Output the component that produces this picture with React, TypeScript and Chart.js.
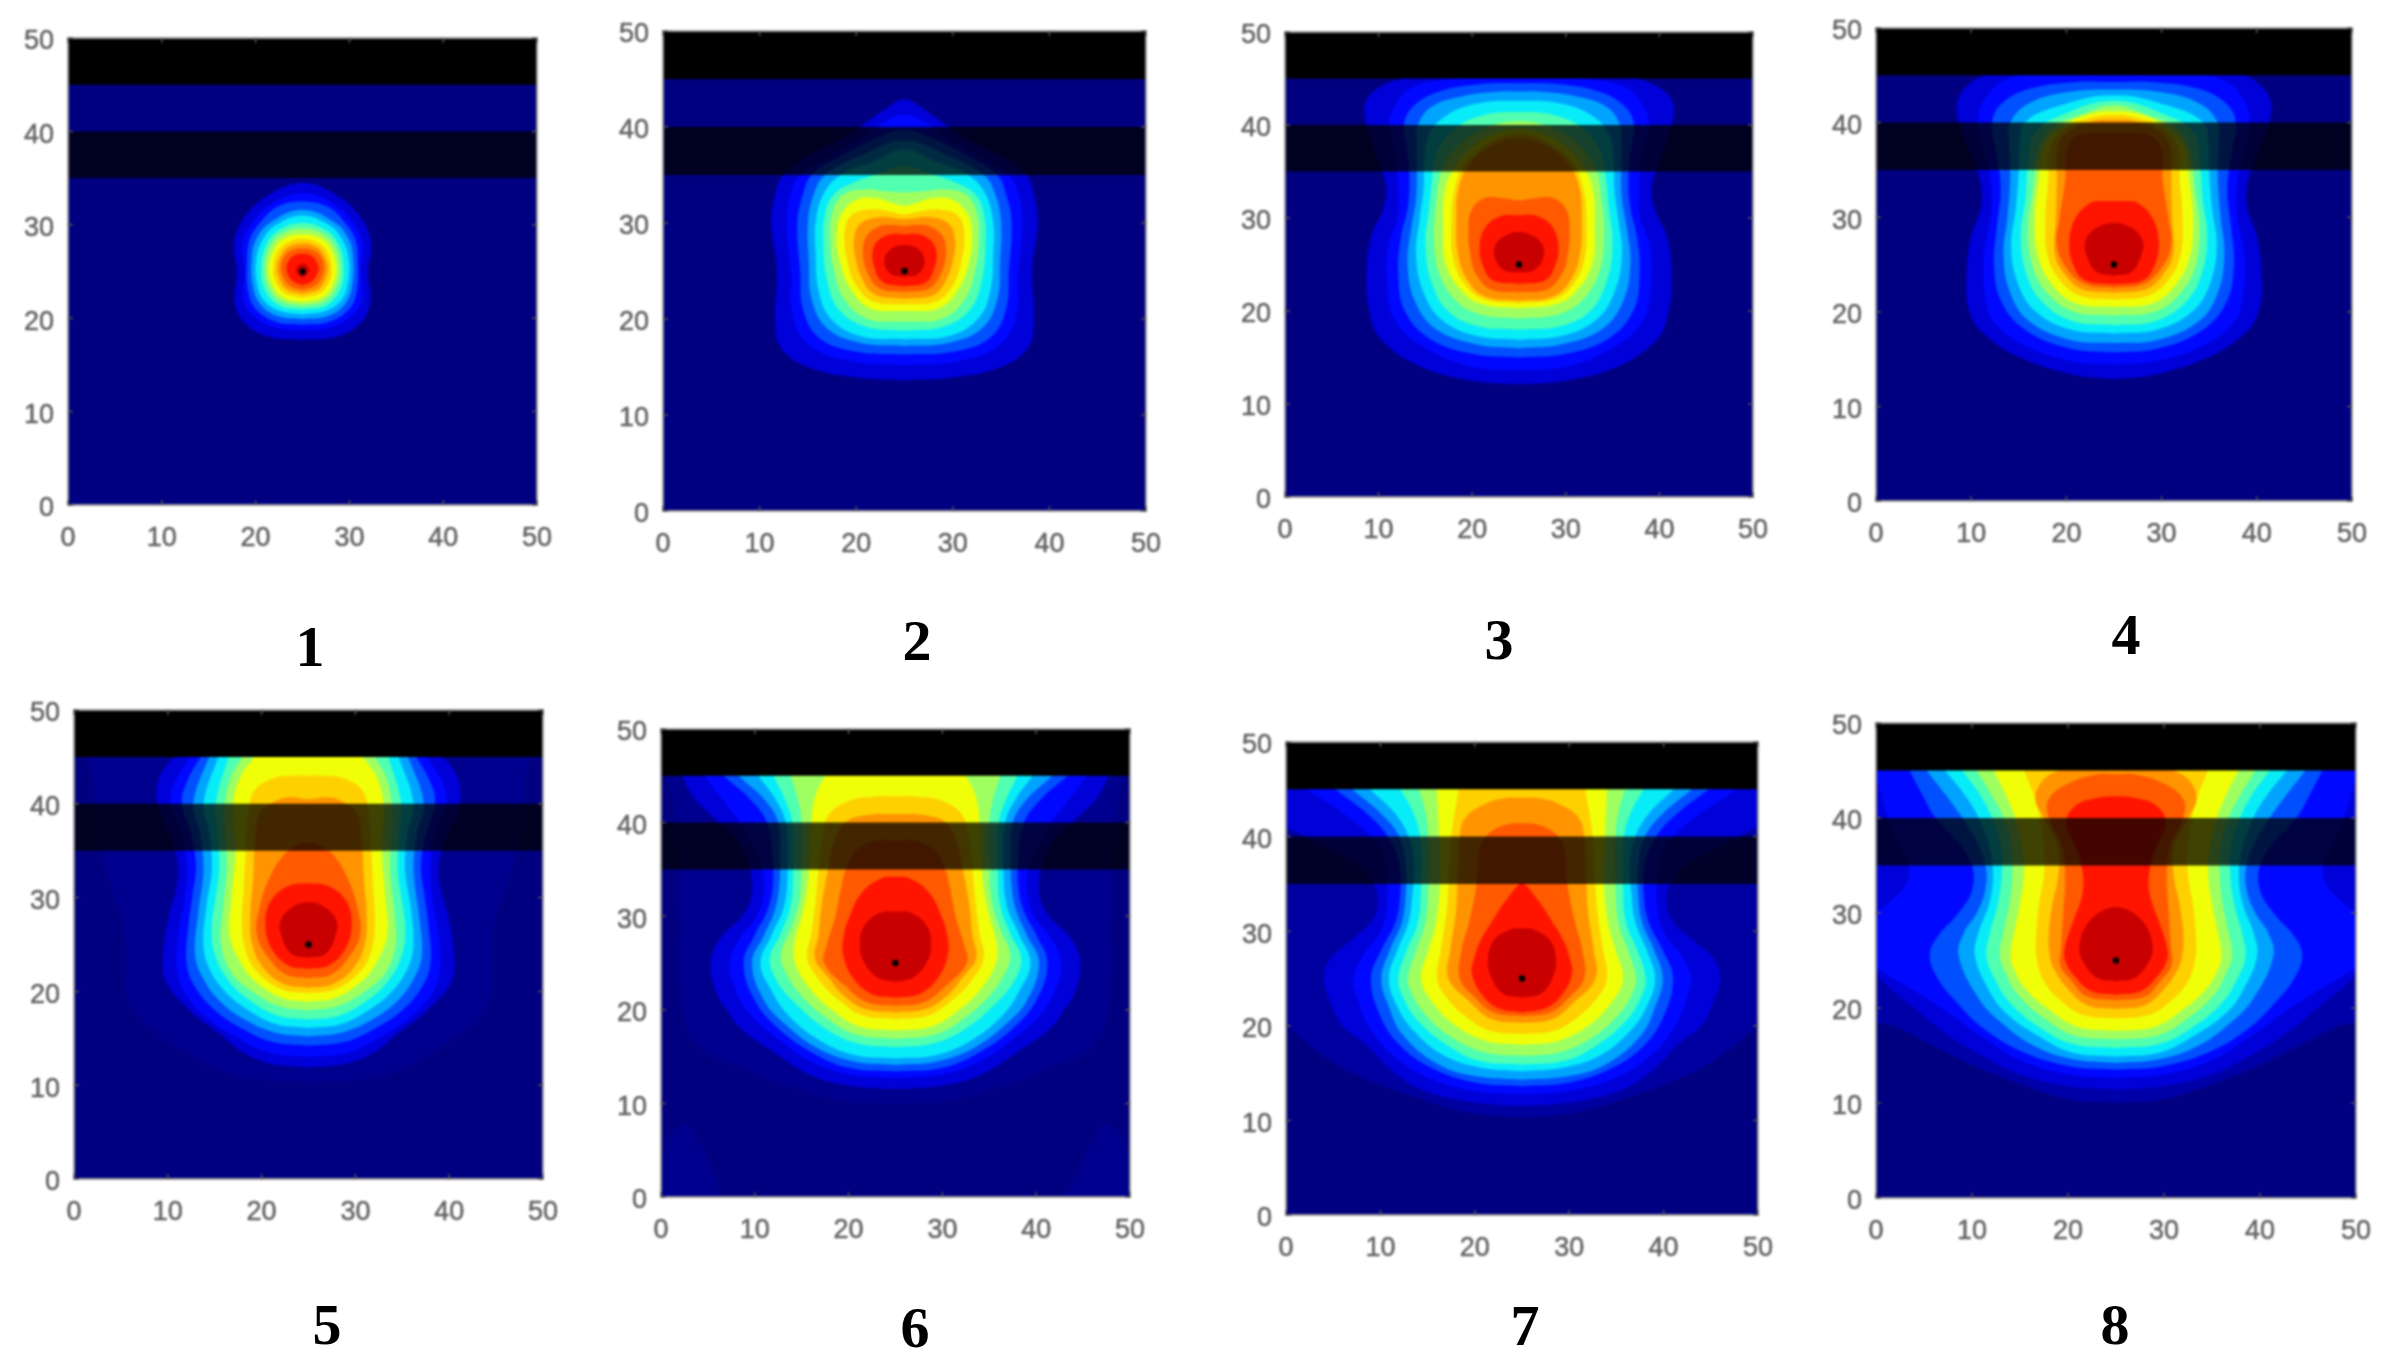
import { useEffect, useRef } from "react"
import { Chart, registerables } from "chart.js"

Chart.register(...registerables)

// Every contour is half an outline: [y, distance from x = 25]
type Half = number[][]

const tickStep = 10
const axisMax = 50
const sourcePoint = [25, 25]
const topLayer: Half = [[45, 25], [50, 25]]
const midLayer: Half = [[35, 25], [40, 25]]
const fullArea: Half = [[0, 25], [50, 25]]

// jet colours, outermost level first
const levelColors = [
  "#0000d8", "#0008ff", "#0050ff", "#00a4ff", "#08ecf8", "#50ffb0", "#a0ff60",
  "#f0ff08", "#ffd000", "#ff9400", "#ff5a00", "#ff1400", "#c80000",
]

const panel1: Half[] = [
  [[17.7,0],[18,3.5],[19.3,6],[21.5,7.2],[25,7],[28,7.3],[30.8,6.2],[33.2,3.6],[34.5,0]],
  [[18.7,0],[19,3],[20.2,5.2],[22,6.3],[25,6.2],[28,6.4],[30.2,5.4],[32.3,3.2],[33.4,0]],
  [[19.3,0],[19.6,2.8],[21,5],[23,5.8],[26,5.9],[28.5,5.6],[30.5,4.3],[32,2.5],[32.5,0]],
  [[19.9,0],[20.2,2.6],[21.5,4.5],[23.5,5.3],[26.5,5.4],[28.5,4.9],[30.2,3.5],[31.6,0]],
  [[20.4,0],[20.8,2.5],[22,4.2],[24,4.9],[26.5,4.9],[28.5,4.2],[30,2.8],[31,0]],
  [[20.9,0],[21.3,2.4],[23,4],[25.5,4.4],[28,3.8],[29.5,2.4],[30.2,0]],
  [[21.3,0],[21.8,2.3],[23.3,3.6],[25.5,4],[27.8,3.4],[29.1,2.1],[29.6,0]],
  [[21.7,0],[22.2,2.1],[23.7,3.3],[25.5,3.6],[27.5,3],[28.6,1.9],[29,0]],
  [[22.2,0],[22.7,1.9],[24,2.9],[25.5,3.1],[27.2,2.6],[28.1,1.6],[28.5,0]],
  [[22.6,0],[23.1,1.7],[24.3,2.5],[25.5,2.7],[26.9,2.2],[27.7,1.4],[28,0]],
  [[23,0],[23.5,1.4],[24.5,2.1],[25.5,2.3],[26.7,1.9],[27.3,1.1],[27.5,0]],
  [[23.5,0],[24,1.1],[24.8,1.6],[25.5,1.7],[26.4,1.3],[26.8,0.7],[26.9,0]],
  [[24.3,0],[24.7,0.5],[25.2,0.7],[25.7,0.4],[25.8,0]],
]

const panel2: Half[] = [
  [[13.6,0],[13.9,5],[15,10],[17,12.8],[20,13.4],[25,13.2],[30,13.8],[33,13.4],[35,12.6],[37,10],[38.5,7],[40,4.6],[42,1.8],[42.9,0]],
  [[15.2,0],[15.5,5],[17,9.5],[20,11.5],[25,11.8],[30,12.2],[33,11.8],[35,10.8],[37,7.5],[39,4.2],[40,2.9],[41.3,0]],
  [[16.3,0],[16.6,5],[18,8.8],[21,10.5],[25,10.8],[30,11.1],[33,10.5],[35,9.6],[37,6.5],[39,2.5],[39.7,0]],
  [[17.2,0],[17.5,4.5],[19,8],[22,9.6],[26,9.9],[30,10],[33,9.4],[35,8.2],[37,4.5],[38.6,0]],
  [[17.9,0],[18.2,4.5],[20,7.6],[23,8.9],[27,9.2],[30,9.2],[33,8.4],[35,6.6],[36.5,3],[37.7,0]],
  [[18.8,0],[19.2,4],[21,6.8],[24,8],[28,8.4],[31,8.2],[33,7.3],[34.2,5.3],[35.2,2.5],[36,0]],
  [[19.7,0],[20,3.8],[22,6.2],[25,7.3],[28,7.7],[31,7.5],[33,6.3],[33.5,4],[33.3,2],[33.2,0]],
  [[20.8,0],[21.1,3.5],[23,5.5],[26,6.7],[29,7],[31,6.5],[32.4,5],[32.6,3],[32,1],[31.8,0]],
  [[21.5,0],[21.8,3.2],[23.5,5],[26,5.9],[29,6.2],[30.8,5.5],[31.4,3.5],[31.2,1.5],[30.9,0]],
  [[22.1,0],[22.5,3],[24,4.3],[26.5,5.1],[28.5,5.2],[30,4.5],[30.6,2.5],[30.4,0]],
  [[22.8,0],[23.2,2.6],[25,3.9],[27,4.3],[28.7,3.9],[29.7,2.5],[29.8,1],[29.7,0]],
  [[23.4,0],[23.8,2.2],[25.3,3.1],[27,3.3],[28.3,2.6],[28.9,1],[28.8,0]],
  [[24.4,0],[24.7,1.4],[26,2.1],[27.2,1.5],[27.7,0]],
]

const panel3: Half[] = [
  [[12.1,0],[12.5,5],[14,10.5],[17,14.8],[20,16],[24,16.3],[28,15.8],[31,14.5],[33.5,14.2],[36,15],[40,16.3],[42.5,16.4],[44.3,14.5],[45.3,11],[46,5],[46,0]],
  [[13.6,0],[14,5],[16,10],[19,13.3],[23,14.1],[27,14],[30,13],[33.5,12.9],[37,13.2],[40,13.9],[42,13.3],[44,11.5],[45,7],[45.5,0]],
  [[15,0],[15.4,5],[17,9.5],[20,12.2],[24,12.9],[28,12.6],[31,11.9],[34,11.7],[37,11.9],[40,12.3],[42,11.3],[43.6,8.5],[44.4,4],[44.5,0]],
  [[16,0],[16.4,4.5],[18,8.8],[21,11.1],[25,11.9],[29,11.5],[32,11],[35,10.9],[38,10.9],[40,10.8],[42,9.3],[43.1,6],[43.6,2],[43.6,0]],
  [[16.9,0],[17.3,4.5],[19,8.2],[22,10.2],[26,11],[30,10.6],[33,10.2],[36,10.1],[39,9.6],[41,7.8],[42.3,4.5],[42.6,0]],
  [[18,0],[18.4,4.5],[20,7.6],[23,9.3],[27,10],[31,9.6],[34,9.3],[37,8.8],[39.5,7],[41,4],[41.4,0]],
  [[19.2,0],[19.6,4],[21,6.6],[24,8.5],[28,9.1],[32,8.8],[35,8.3],[37.5,6.8],[39.5,4],[40.4,0]],
  [[20.3,0],[20.7,3.8],[22,6],[25,7.8],[29,8.1],[33,7.9],[35.5,6.9],[37.5,5.2],[39,2.8],[39.6,0]],
  [[20.8,0],[21.2,3.6],[22.6,5.6],[25.5,7],[30,7.2],[33,6.9],[35.5,6],[37.5,4],[38.8,1.8],[39,0]],
  [[21.1,0],[21.5,3.5],[23,5.3],[26,6.5],[30,6.7],[33,6.5],[35.5,5.5],[37.5,3.5],[38.6,0]],
  [[22,0],[22.3,3],[24,4.6],[26,5.2],[29,5.4],[31,5],[32.2,3.5],[32.1,1.5],[31.9,0]],
  [[22.9,0],[23.3,2.8],[25,3.9],[27,4.2],[29,3.6],[30.2,2],[30.3,0]],
  [[24.1,0],[24.4,1.6],[25.8,2.6],[27.3,2.4],[28.3,1],[28.5,0]],
]

const panel4: Half[] = [
  [[12.9,0],[13.3,4],[15,9.5],[17.5,13.5],[20,15.2],[24,15.5],[28,15],[31,14],[33.5,14],[36,14.8],[40,16.3],[42.5,16.4],[44.3,15],[45,13.5],[46,9],[46,0]],
  [[14.4,0],[14.8,4.5],[16.5,9.5],[19,12.7],[22,13.6],[26,13.7],[30,13],[33.5,12.9],[37,13.7],[40,14.3],[42.5,13.6],[44.5,11.5],[45.2,8],[46,0]],
  [[15.7,0],[16.1,4.5],[18,9.2],[21,11.8],[25,12.6],[29,12.3],[33,11.9],[37,12.4],[40,12.8],[42,11.8],[43.6,8.8],[44.3,4],[44.3,0]],
  [[16.7,0],[17,4.5],[19,8.9],[22,10.9],[26,11.6],[30,11.2],[34,10.9],[38,11],[40,10.9],[42,9],[43.2,5],[43.5,0]],
  [[17.7,0],[18.1,4.5],[20,8.2],[23,10.1],[27,10.8],[31,10.3],[35,10],[38,9.9],[40,9.4],[41.7,6],[42.9,0]],
  [[18.6,0],[19,4.3],[21,7.5],[24,9.2],[28,9.8],[32,9.3],[36,9],[39,8.3],[41,5],[42.3,0]],
  [[19.6,0],[20,4.2],[22,7],[25,8.6],[29,9],[33,8.5],[37,8],[39.5,6.5],[40.8,3.5],[41.8,0]],
  [[20.5,0],[20.9,4],[23,6.6],[26,8],[30,8.3],[34,7.9],[37.5,7.4],[39.5,5.5],[40.8,3],[41.2,0]],
  [[21.3,0],[21.7,3.6],[23.5,5.8],[26,7],[30,7.2],[34,6.9],[37.5,6.7],[39.5,5],[40.5,2.5],[40.8,0]],
  [[22,0],[22.4,3.4],[24,5.2],[26,6.2],[30,6.1],[34,6],[37.5,5.9],[39.3,4.5],[40.2,2],[40.3,0]],
  [[22.5,0],[22.9,3],[24.5,4.9],[27,6],[30,5.7],[34,5.1],[37,5],[38.5,4],[38.9,2],[38.9,0]],
  [[22.9,0],[23.3,3],[25,4.3],[27.5,4.7],[30,4],[31.5,2.5],[31.7,1.5],[31.7,0]],
  [[23.8,0],[24.2,1.8],[25.8,2.8],[27.5,3],[28.9,1.8],[29.4,0]],
]

const panel5: Half[] = [
  [[11.9,0],[12.3,4],[13.5,7],[15.5,9.5],[18,12.7],[21,15.2],[24,15.5],[28,14.9],[31,14.1],[33.5,13.9],[36,14.6],[40,16.1],[42.5,16],[44.3,15],[45,14.2],[46,13],[46,0]],
  [[13,0],[13.4,4],[15,7.5],[17,10.6],[19.5,13],[22,14],[26,13.9],[30,13.2],[33.5,13],[37,13.6],[40,14.7],[42.5,14.2],[45,12.6],[46,12],[46,0]],
  [[14.2,0],[14.6,3.8],[16,7],[18,10],[20.5,12.1],[23,13],[27,12.8],[30,12.4],[33.5,12],[37,12.6],[40,13.5],[42.5,12.9],[45,11.5],[46,11],[46,0]],
  [[15.2,0],[15.6,3.5],[17,6.8],[19,9.5],[21.5,11.3],[24,12.1],[28,11.8],[33,11.2],[37,11.6],[40,12.3],[45,10.6],[46,10],[46,0]],
  [[16.1,0],[16.5,3.4],[18,6.4],[20,8.9],[22.5,10.6],[25,11.2],[29,10.9],[33,10.3],[37,10.6],[40,11.2],[45,9.6],[46,9],[46,0]],
  [[17,0],[17.4,3.2],[19,6.2],[21,8.4],[24,10],[27,10.3],[30,9.9],[33,9.5],[37,9.7],[40,9.9],[45,8.5],[46,8],[46,0]],
  [[18,0],[18.4,3],[20,6],[22,8.2],[25,9.3],[28,9.2],[33,8.7],[37,8.9],[40,8.9],[43,8.2],[45,7.1],[46,6.8],[46,0]],
  [[18.9,0],[19.3,2.8],[21,5.6],[23,7.2],[26,8.4],[30,8.2],[35,7.8],[40,8],[43,7.2],[45,5.8],[46,5.3],[46,0]],
  [[19.8,0],[20.2,2.8],[22,5.4],[24,6.6],[27,7.1],[31,6.9],[35,6.7],[39,6.4],[41.5,5.7],[42.8,3.5],[43,1.5],[43,0]],
  [[20.4,0],[20.8,2.6],[22.5,4.8],[25,6],[28,6.2],[32,5.9],[36,5.7],[39,5.2],[40.3,3.5],[40.7,2],[40.5,0]],
  [[21.4,0],[21.8,2.4],[23.5,4.2],[26,5.5],[29,5.2],[32,4.2],[34.5,2.7],[35.8,0.8],[35.8,0]],
  [[22.4,0],[22.8,2.2],[24.5,3.9],[27,4.6],[29.5,4.1],[31.2,2.2],[31.5,0]],
  [[23.6,0],[24,1.8],[25.7,2.8],[27.5,3],[29,1.7],[29.5,0]],
]

const panel6: Half[] = [
  [[11.5,0],[11.9,5],[13,9],[15.5,13],[18,16.5],[20,18],[22,19.2],[25,19.7],[27.5,18.8],[30,16.4],[32,15.4],[35,15.5],[37.5,16.5],[40,18.8],[42.5,21.4],[45,22.8],[46,23.5],[46,0]],
  [[12.7,0],[13.1,5],[14.5,9],[17,12.7],[19.5,15.5],[22,17],[25,17.7],[27.5,16.7],[30,14.8],[33,14],[36,14.5],[38.5,15.8],[40,16.6],[42.5,18.5],[45,20.4],[46,21],[46,0]],
  [[13.4,0],[13.8,5],[15.5,9],[18,12.5],[21,15],[25,16.2],[28,15],[30.5,13.7],[33,13.1],[36,13.1],[40,13.7],[42.5,15.5],[45,18.3],[46,19],[46,0]],
  [[14.1,0],[14.5,4.5],[16,8.5],[18.5,11.8],[21,14],[25,15.3],[28,14],[30.5,12.9],[33,12.4],[36,12.3],[40,12.5],[42.5,14],[45,16.7],[46,17.3],[46,0]],
  [[14.8,0],[15.2,4.5],[17,8.5],[19.5,11.5],[22,13.2],[25,14.4],[28,13.2],[31,11.9],[35,11.5],[40,11.7],[42.5,12.8],[45,14.6],[46,15],[46,0]],
  [[16,0],[16.4,4],[18,7.5],[20.5,10.5],[23,12.6],[25.5,13.4],[28,12.3],[31,11.2],[35,10.9],[40,11],[42.5,11.8],[45,13],[46,13.4],[46,0]],
  [[16.9,0],[17.3,4],[19,7.2],[21.5,10],[24,11.7],[26,12.2],[29,11],[32,10.2],[36,10],[40,10],[42.5,10.4],[45,11.2],[46,11.5],[46,0]],
  [[17.8,0],[18.2,3.8],[20,6.8],[22.5,9.3],[25,10.7],[27,10.8],[30,10],[33,9.4],[36,9.2],[40,9],[43,8.5],[45,7.5],[46,7],[46,0]],
  [[19,0],[19.4,3.5],[21,6],[23,8],[25.5,9.4],[28,9],[31,8.6],[35,8.2],[39,7.7],[41,7],[42.4,4.8],[42.8,2],[42.8,0]],
  [[19.7,0],[20.1,3.3],[21.5,5.5],[23.5,7.2],[25.5,8.6],[28,8.2],[31,7.9],[35,7.2],[38,6.5],[40,5.4],[40.8,3],[40.9,0]],
  [[20.4,0],[20.8,3],[22.5,5.3],[25,7.6],[27,7.3],[30,6.4],[33,5.8],[35,5.3],[37,4.2],[38,2.4],[38.1,0]],
  [[21.3,0],[21.7,2.6],[23.5,4.6],[26,5.6],[28,5.5],[30,4.9],[32.5,3.6],[34,1.6],[34.2,0]],
  [[23,0],[23.4,1.8],[25,3.3],[27,3.8],[29,3.3],[30.3,1.8],[30.5,0]],
]

const panel7: Half[] = [
  [[11.5,0],[11.9,5],[13,10],[15,13.5],[18,16.5],[20,19],[22.5,20.3],[25,21],[27,20.4],[29,18.2],[31,16],[33,15.3],[35,15.7],[37,17.4],[38.5,20],[40,23],[42,26],[46,27],[46,0]],
  [[12.7,0],[13.1,5],[14.5,10],[17,13.8],[20,16.3],[23,17.5],[25,17.9],[27.5,16.8],[30,15],[33,14.3],[36,14.4],[38.5,14.9],[40,16],[42.5,19],[45,22.8],[46,24],[46,0]],
  [[13.6,0],[14,5],[15.5,9.5],[18,13],[21,15],[25,16],[28,14.9],[31,13.4],[34,12.9],[37,13],[40,14.2],[42.5,16.5],[45,19.8],[46,21],[46,0]],
  [[14.3,0],[14.7,5],[16,9],[19,12.6],[22,14.1],[25,14.9],[28,14],[31,12.7],[34,12.3],[37,12.3],[40,13],[42.5,15],[45,18],[46,19],[46,0]],
  [[15.2,0],[15.6,4.5],[17,8.5],[19.5,11.5],[22,13.2],[25,14.1],[28,13.2],[31,12],[34,11.6],[37,11.4],[40,12],[42.5,13.5],[45,16.1],[46,17],[46,0]],
  [[15.9,0],[16.3,4.5],[18,8],[20.5,11],[23,12.6],[25,13.1],[28,12.2],[31,11],[35,10.7],[40,10.8],[42.5,11.5],[45,12.9],[46,13.5],[46,0]],
  [[16.8,0],[17.2,4],[19,7.8],[21.5,10.5],[23.5,11.7],[25,12.1],[28,11.2],[31,10.2],[35,9.9],[40,9.9],[42.5,10.2],[45,10.9],[46,11.2],[46,0]],
  [[18,0],[18.4,3.8],[20,7],[22.5,9.5],[25,10.7],[28,9.9],[31,9.1],[35,8.7],[40,8.8],[45,9],[46,9.1],[46,0]],
  [[19.1,0],[19.5,3.5],[21,6],[23,8],[25,9],[28,8.6],[32,8],[36,7.7],[40,7.5],[45,6.7],[46,6.5],[46,0]],
  [[20.3,0],[20.7,3.2],[22.5,5.5],[25,7.8],[28,7.6],[32,7],[36,6.8],[40,6.6],[42,6],[43.5,3.8],[44.1,1.5],[44.1,0]],
  [[21,0],[21.4,3],[23,5],[25,6.6],[28,6.4],[31,5.6],[35,4.8],[39,4.4],[40.5,3.3],[41.3,1.5],[41.4,0]],
  [[21.4,0],[21.9,2.6],[23.5,4.4],[25.5,5.3],[27,5.1],[29,4.4],[31,3.2],[33,1.9],[35,0.3],[35.1,0]],
  [[23,0],[23.4,2],[25,3.2],[27,3.6],[29,3],[30.1,1.4],[30.3,0]],
]

const panel8: Half[] = [
  [[11.4,0],[11.8,5],[13,10],[15,14],[17.5,18],[20,21],[22,23.5],[23.5,25],[25,27],[46,27],[46,0]],
  [[12.6,0],[13,5],[14.5,10],[17,14],[19.5,17.5],[21.5,20.5],[23.3,23.5],[24.5,25.2],[27,26.5],[29.5,25.5],[31,23.8],[33,21.9],[35,21.6],[37,22.5],[40,23.8],[45,25.2],[46,26],[46,0]],
  [[13.5,0],[13.9,5],[15.5,10],[18,14],[20.5,16.5],[23,18.5],[25.5,19.4],[27.5,18.6],[30,16.4],[32.4,15],[35,15],[37.5,16.5],[40,18.8],[42.5,20.2],[45,21.5],[46,22],[46,0]],
  [[14.2,0],[14.6,4.5],[16,8.5],[18.5,12],[21,14.3],[25.5,16.4],[28,15.8],[30,14.5],[32.5,13.6],[35,13.6],[37.5,14.5],[40,16],[42.5,17.8],[45,19.7],[46,20.2],[46,0]],
  [[14.9,0],[15.3,4.5],[17,8],[19.5,11.5],[22,13.3],[25.5,14.7],[28,14.3],[31,13.2],[34,12.8],[37,13.2],[40,14.3],[42.5,15.8],[45,17.8],[46,18.4],[46,0]],
  [[15.8,0],[16.2,4.5],[18,8],[20.5,11],[23,12.6],[25.5,13.5],[28,13.1],[31,12.3],[34,11.9],[37,12],[40,12.9],[42.5,14.2],[45,16],[46,16.6],[46,0]],
  [[16.7,0],[17.1,4.3],[19,7.6],[21.5,10.3],[23.5,11.4],[25.5,12.1],[28,11.7],[31,11.1],[34,10.8],[37,10.9],[40,11.7],[42.5,13],[45,14.5],[46,15],[46,0]],
  [[17.6,0],[18,4],[20,7.2],[22,9.4],[24,10.6],[25.5,11],[28,10.6],[31,10],[34,9.6],[37,9.8],[40,10.5],[42.5,11.5],[45,12.7],[46,13],[46,0]],
  [[18.9,0],[19.3,3.5],[21,6],[23,7.6],[25.5,8.3],[28,8.3],[31,8],[34,7.5],[37,7.5],[40,7.9],[42.5,8.6],[45,9.6],[46,10],[46,0]],
  [[19.9,0],[20.3,3],[22,5],[24,6.4],[25.5,6.9],[28,7],[31,6.6],[34,6],[37,6],[40,7.5],[42,8.4],[44,7.6],[45,6],[46,4],[46,0]],
  [[20.8,0],[21.2,3],[22.8,4.6],[24.5,5.8],[26.5,5.7],[30,5.5],[33.5,5.3],[37,5.6],[40,7],[42,7],[43.7,4.8],[44.6,1.8],[44.6,0]],
  [[21.4,0],[21.8,2.6],[23.2,4.2],[25,5.3],[26.5,5.3],[29,4.5],[32,3.5],[34.5,3.5],[37,4.2],[39.5,5.2],[41.3,4.2],[42.1,2],[42.3,0]],
  [[22.8,0],[23.2,2],[25,3.5],[26.5,3.8],[28.5,3.2],[30,1.8],[30.6,0]],
]

// Faint levels just above the background, only in the later panels
const panel5Outer: Half[] = [[[10.3,0],[11,8],[14,14],[17,18],[20,19.6],[23,19.5],[27,19.8],[31,21],[36,22.5],[42,23],[46,23],[46,0]]]
const panel6Outer: Half[] = [
  [[9.9,0],[10.3,6],[12,12],[14,17],[16,21],[20,22.7],[30,23],[40,23.3],[46,24],[46,0]],
  [[0,18],[3,19.5],[6,21],[7.7,22.3],[6.5,24],[4,25],[0,26]],
]
const panel7Outer: Half[] = [[[10.3,0],[10.7,5],[12,10],[15,18],[17.5,22],[20,25],[21,27],[46,27],[46,0]]]
const panel8Outer: Half[] = [[[10,0],[10.4,5],[12,10],[14,15],[16,19],[18,23],[18.5,25],[18.8,27],[46,27],[46,0]]]

const captions = ["1", "2", "3", "4", "5", "6", "7", "8"]
const panelContours = [panel1, panel2, panel3, panel4, panel5, panel6, panel7, panel8]
const panelOuter: Half[][] = [[], [], [], [], panel5Outer, panel6Outer, panel7Outer, panel8Outer]
const outerColors = ["", "", "", "", "#00008e", "#00008e", "#0000a0", "#0000a8"]

// plot area of each panel on the page: left, top, width, height
const plotBoxes = [
  [68, 38, 469, 467],
  [663, 31, 483, 480],
  [1285, 32, 468, 465],
  [1876, 28, 476, 473],
  [74, 710, 469, 469],
  [661, 729, 469, 468],
  [1286, 742, 472, 473],
  [1876, 723, 480, 475],
]
const captionSpots = [
  [310, 646], [917, 640], [1499, 639], [2126, 634],
  [327, 1324], [915, 1327], [1525, 1325], [2115, 1324],
]

const marginLeft = 60
const marginRight = 30
const marginTop = 20
const marginBottom = 50

// close a half outline by mirroring it around x = 25
function mirror(half: Half) {
  const right = half.map(([y, d]) => ({ x: 25 + d, y }))
  const left = half
    .filter(([, d]) => d > 0)
    .reverse()
    .map(([y, d]) => ({ x: 25 - d, y }))
  return [...right, ...left, right[0]]
}

function area(half: Half, color: string, tension = 0.4) {
  return {
    data: mirror(half),
    showLine: true,
    fill: "shape",
    backgroundColor: color,
    borderWidth: 0,
    pointRadius: 0,
    tension,
  }
}

const axisFrame = {
  id: "axisFrame",
  afterDraw(chart: any) {
    const { ctx, chartArea: a, scales } = chart
    ctx.save()
    ctx.strokeStyle = "#9a9a9a"
    ctx.lineWidth = 2
    ctx.strokeRect(a.left, a.top, a.right - a.left, a.bottom - a.top)
    // MATLAB style ticks, pointing inwards
    ctx.strokeStyle = "#555555"
    ctx.lineWidth = 1.5
    ctx.beginPath()
    scales.x.ticks.forEach((t: any) => {
      const px = scales.x.getPixelForValue(t.value)
      ctx.moveTo(px, a.bottom)
      ctx.lineTo(px, a.bottom - 5)
      ctx.moveTo(px, a.top)
      ctx.lineTo(px, a.top + 5)
    })
    scales.y.ticks.forEach((t: any) => {
      const py = scales.y.getPixelForValue(t.value)
      ctx.moveTo(a.left, py)
      ctx.lineTo(a.left + 5, py)
      ctx.moveTo(a.right, py)
      ctx.lineTo(a.right - 5, py)
    })
    ctx.stroke()
    ctx.restore()
  },
}

function axisOptions(side: "x" | "y") {
  return {
    type: "linear",
    min: 0,
    max: axisMax,
    afterFit(scale: any) {
      // keep the plot area exactly where plotBoxes says
      scale.paddingLeft = 0
      scale.paddingRight = 0
      scale.paddingTop = 0
      scale.paddingBottom = 0
      if (side === "x") scale.height = marginBottom
      else scale.width = marginLeft
    },
    border: { display: false },
    grid: { display: false, drawTicks: false },
    ticks: {
      stepSize: tickStep,
      padding: side === "x" ? 17 : 14,
      labelOffset: side === "x" ? 0 : 4,
      color: "#626262",
      textStrokeColor: "#626262",
      textStrokeWidth: 0.5,
      maxRotation: 0,
      autoSkip: false,
      font: { family: "Liberation Sans", size: 27 },
    },
  }
}

function ContourPanel({ index }: { index: number }) {
  const chartRef = useRef<HTMLCanvasElement>(null)
  const [left, top, width, height] = plotBoxes[index]

  useEffect(() => {
    if (!chartRef.current) return

    // painter's order first, Chart.js draws the first dataset on top so it gets reversed
    const layers = [
      area(fullArea, "#000080", 0),
      ...panelOuter[index].map((c) => area(c, outerColors[index])),
      ...panelContours[index].map((c, i) => area(c, levelColors[i])),
      area(midLayer, "rgba(0,0,0,0.74)", 0),
      area(topLayer, "#000000", 0),
      {
        data: [{ x: sourcePoint[0], y: sourcePoint[1] }],
        showLine: false,
        backgroundColor: "#000000",
        borderWidth: 0,
        pointRadius: 3.2,
      },
    ]

    const chart = new Chart(chartRef.current, {
      type: "scatter",
      data: { datasets: layers.reverse() as any },
      options: {
        responsive: false,
        animation: false,
        layout: { padding: { top: marginTop, right: marginRight } },
        plugins: { legend: { display: false }, tooltip: { enabled: false } },
        scales: { x: axisOptions("x") as any, y: axisOptions("y") as any },
      },
      plugins: [axisFrame],
    })

    return () => chart.destroy()
  }, [index])

  return (
    <canvas
      ref={chartRef}
      width={width + marginLeft + marginRight}
      height={height + marginTop + marginBottom}
      style={{
        position: "absolute",
        left: left - marginLeft,
        top: top - marginTop,
        filter: "blur(0.8px)",
      }}
    />
  )
}

export default function App() {
  return (
    <div style={{ position: "absolute", left: 0, top: 0, width: 2408, height: 1370, background: "#fff", overflow: "hidden" }}>
      {captions.map((label, i) => (
        <ContourPanel key={label} index={i} />
      ))}
      {captions.map((label, i) => (
        <div
          key={label}
          style={{
            position: "absolute",
            left: captionSpots[i][0],
            top: captionSpots[i][1],
            transform: "translate(-50%, -50%)",
            font: "bold 58px 'Liberation Serif'",
            color: "#000",
          }}
        >
          {label}
        </div>
      ))}
    </div>
  )
}
